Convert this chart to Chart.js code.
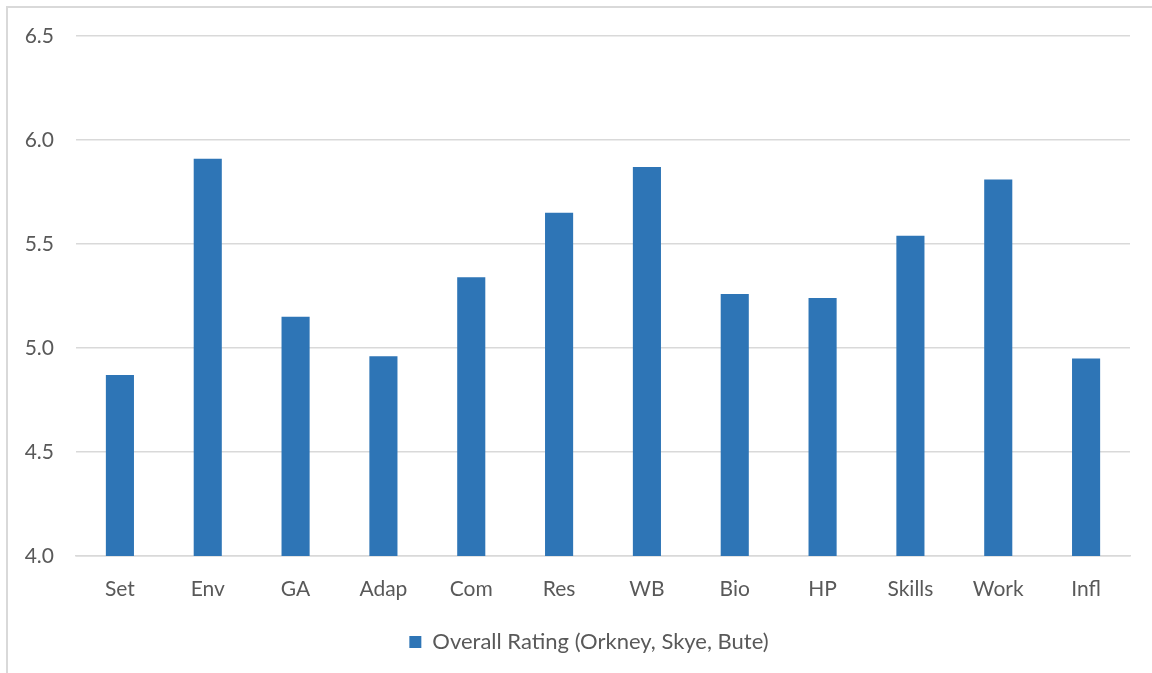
<!DOCTYPE html>
<html>
<head>
<meta charset="utf-8">
<script src="https://cdn.jsdelivr.net/npm/chart.js@4"></script>
<style>
  html, body { margin: 0; padding: 0; background: #fff; overflow: hidden; }
  #frame {
    position: absolute; left: 6px; top: 6px; width: 2000px; height: 2000px;
    border-top: 2px solid #d9d9d9; border-left: 2px solid #d9d9d9;
  }
  #wrap { position: absolute; left: 0; top: 0; width: 1152px; height: 673px; }
</style>
</head>
<body>
<div id="frame"></div>
<div id="wrap"><canvas id="c"></canvas></div>
<script>
const categories = ['Set', 'Env', 'GA', 'Adap', 'Com', 'Res', 'WB', 'Bio', 'HP', 'Skills', 'Work', 'Infl'];
const overallRating = [4.87, 5.91, 5.15, 4.96, 5.34, 5.65, 5.87, 5.26, 5.24, 5.54, 5.81, 4.95];
const seriesLabel = 'Overall Rating (Orkney, Skye, Bute)';
const yTicks = [4.0, 4.5, 5.0, 5.5, 6.0, 6.5];

const FONT = 'Lato, "Open Sans", sans-serif';
const TEXT = '#595959';
const GRID = '#d9d9d9';

// nudge the legend so it sits roughly under the middle of the plot
const legendUnderPlot = {
  id: 'legendUnderPlot',
  afterLayout(chart) {
    const lg = chart.legend;
    if (!lg) return;
    const target = (chart.chartArea.left + chart.chartArea.right) / 2 - 14;
    const shift = target - (lg.left + lg.right) / 2;
    lg.left += shift;
    lg.right += shift;
  }
};

new Chart(document.getElementById('c'), {
  type: 'bar',
  data: {
    labels: categories,
    datasets: [{
      label: seriesLabel,
      data: overallRating,
      backgroundColor: '#2e75b6',
      borderWidth: 0,
      barPercentage: 1,
      categoryPercentage: 0.32
    }]
  },
  plugins: [legendUnderPlot],
  options: {
    responsive: true,
    maintainAspectRatio: false,
    animation: false,
    layout: { padding: { top: 36, right: 22, bottom: 10, left: 0 } },
    plugins: {
      tooltip: { enabled: false },
      legend: {
        position: 'bottom',
        labels: {
          boxWidth: 12, boxHeight: 12,
          color: TEXT,
          font: { family: FONT, size: 22 }
        }
      }
    },
    scales: {
      x: {
        grid: { display: false, drawTicks: false },
        border: { display: true, color: GRID, width: 1.5 },
        ticks: { color: TEXT, font: { family: FONT, size: 21 }, padding: 21 },
        afterFit: (s) => { s.height = 65; }
      },
      y: {
        min: 4.0, max: 6.5,
        afterBuildTicks: (s) => { s.ticks = yTicks.map(v => ({ value: v })); },
        grid: { color: GRID, lineWidth: 1.5, drawTicks: false },
        border: { display: false },
        ticks: {
          color: TEXT, font: { family: FONT, size: 21 }, padding: 22,
          callback: (v) => Number(v).toFixed(1)
        },
        afterFit: (s) => { s.width = 76; }
      }
    }
  }
});
</script>
</body>
</html>
